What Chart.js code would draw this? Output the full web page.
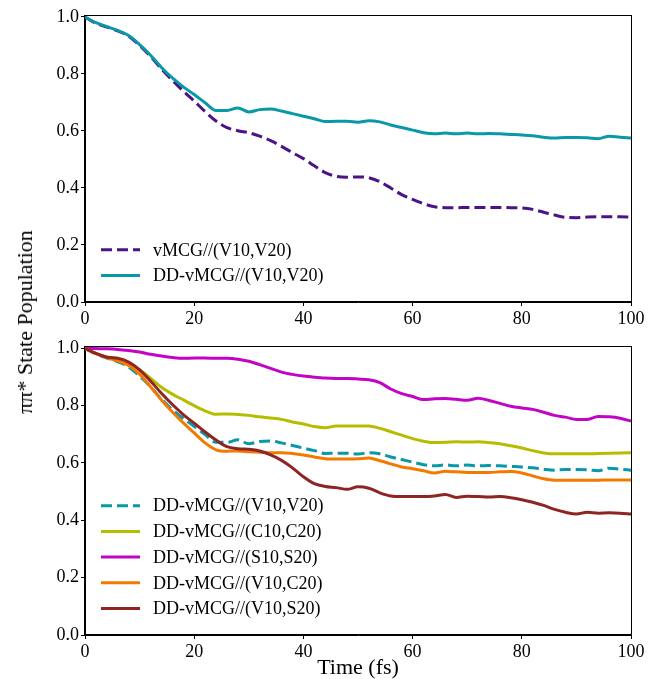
<!DOCTYPE html>
<html>
<head>
<meta charset="utf-8">
<script src="https://cdn.jsdelivr.net/npm/chart.js@4.4.1/dist/chart.umd.min.js"></script>
<style>
  body { margin: 0; background: #fff; }
  #wrap { position: relative; width: 648px; height: 679px; }
  #topChart { position: absolute; left: 0; top: 0; }
  #bottomChart { position: absolute; left: 0; top: 330px; }
  #yTitle {
    position: absolute; left: 25px; top: 322px;
    transform: translate(-50%, -50%) rotate(-90deg);
    font-family: 'Liberation Serif', serif; font-size: 22px;
    white-space: nowrap; color: #000;
  }
</style>
</head>
<body>
<div id="wrap">
  <canvas id="topChart" width="648" height="330"></canvas>
  <canvas id="bottomChart" width="648" height="349"></canvas>
  <div id="yTitle">ππ* State Population</div>
</div>
<script>
// time axis (fs)
const time = [0, 2, 4, 6, 8, 10, 12, 14, 16, 18, 20, 22, 24, 26, 28, 30, 32, 34, 36, 38, 40,
  42, 44, 46, 48, 50, 52, 54, 56, 58, 60, 62, 64, 66, 68, 70, 72, 74, 76, 78, 80,
  82, 84, 86, 88, 90, 92, 94, 96, 98, 100];
const xTicks = [0, 20, 40, 60, 80, 100];
const yTicks = [0, 0.2, 0.4, 0.6, 0.8, 1.0];

// populations
const vmcgV10V20 = [1.000, 0.978, 0.965, 0.951, 0.933, 0.900, 0.862, 0.818, 0.778, 0.740, 0.705,
  0.668, 0.635, 0.612, 0.601, 0.594, 0.582, 0.566, 0.546, 0.524, 0.503,
  0.478, 0.454, 0.441, 0.438, 0.439, 0.436, 0.422, 0.400, 0.377, 0.360,
  0.345, 0.334, 0.331, 0.331, 0.332, 0.332, 0.332, 0.332, 0.331, 0.330,
  0.325, 0.315, 0.305, 0.297, 0.296, 0.298, 0.299, 0.299, 0.299, 0.298];
const ddV10V20 = [1.000, 0.980, 0.966, 0.953, 0.935, 0.903, 0.866, 0.823, 0.786, 0.755, 0.728,
  0.699, 0.672, 0.672, 0.681, 0.667, 0.675, 0.677, 0.670, 0.661, 0.652,
  0.643, 0.633, 0.634, 0.634, 0.631, 0.636, 0.632, 0.621, 0.612, 0.603,
  0.594, 0.590, 0.593, 0.590, 0.593, 0.590, 0.591, 0.590, 0.588, 0.586,
  0.583, 0.578, 0.575, 0.577, 0.577, 0.576, 0.573, 0.582, 0.578, 0.575];
const ddC10C20 = [1.000, 0.981, 0.970, 0.965, 0.950, 0.925, 0.896, 0.864, 0.840, 0.820, 0.800,
  0.782, 0.770, 0.771, 0.769, 0.766, 0.761, 0.757, 0.752, 0.743, 0.736,
  0.727, 0.723, 0.729, 0.729, 0.729, 0.729, 0.721, 0.709, 0.697, 0.685,
  0.676, 0.671, 0.672, 0.674, 0.673, 0.674, 0.671, 0.667, 0.660, 0.652,
  0.643, 0.635, 0.632, 0.632, 0.632, 0.632, 0.633, 0.634, 0.635, 0.636];
const ddS10S20 = [1.000, 0.999, 0.998, 0.996, 0.992, 0.987, 0.979, 0.973, 0.968, 0.965, 0.966,
  0.966, 0.965, 0.965, 0.962, 0.955, 0.943, 0.930, 0.917, 0.909, 0.903,
  0.899, 0.896, 0.895, 0.895, 0.893, 0.890, 0.880, 0.858, 0.842, 0.832,
  0.821, 0.824, 0.825, 0.822, 0.819, 0.826, 0.818, 0.808, 0.798, 0.792,
  0.787, 0.777, 0.766, 0.760, 0.752, 0.752, 0.762, 0.761, 0.756, 0.746];
const ddV10C20 = [1.000, 0.982, 0.967, 0.956, 0.940, 0.910, 0.866, 0.820, 0.778, 0.740, 0.705,
  0.670, 0.646, 0.641, 0.642, 0.639, 0.637, 0.636, 0.636, 0.633, 0.628,
  0.621, 0.615, 0.614, 0.614, 0.615, 0.617, 0.608, 0.597, 0.586, 0.580,
  0.573, 0.565, 0.571, 0.569, 0.567, 0.567, 0.567, 0.569, 0.570, 0.565,
  0.555, 0.545, 0.540, 0.540, 0.540, 0.540, 0.540, 0.541, 0.541, 0.541];
const ddV10S20 = [1.000, 0.982, 0.969, 0.965, 0.952, 0.925, 0.886, 0.843, 0.804, 0.769, 0.739,
  0.708, 0.680, 0.657, 0.650, 0.648, 0.642, 0.628, 0.609, 0.583, 0.552,
  0.528, 0.518, 0.514, 0.508, 0.517, 0.512, 0.496, 0.485, 0.483, 0.483,
  0.483, 0.485, 0.490, 0.480, 0.484, 0.483, 0.481, 0.483, 0.479, 0.472,
  0.463, 0.452, 0.438, 0.428, 0.422, 0.428, 0.425, 0.426, 0.425, 0.422];

const serif = "'Liberation Serif', 'Times New Roman', serif";

const toPoints = (vals) => time.map((t, i) => ({ x: t, y: vals[i] }));

const series = (label, vals, color, dashed, order) => ({
    label: label,
    data: toPoints(vals),
    borderColor: color,
    borderWidth: 3,
    borderDash: dashed ? [11, 5] : [],
    pointRadius: 0,
    fill: false,
    cubicInterpolationMode: 'monotone',
    order: order
});

// legend drawn inside the axes, lower left like the original
const insideLegend = {
    id: 'insideLegend',
    afterDatasetsDraw(chart) {
        const { ctx, chartArea } = chart;
        const sets = chart.data.datasets;
        ctx.save();
        ctx.font = `18px ${serif}`;
        ctx.textBaseline = 'middle';
        sets.forEach((ds, i) => {
            const y = chartArea.bottom - 26.5 - (sets.length - 1 - i) * 25.7;
            ctx.strokeStyle = ds.borderColor;
            ctx.lineWidth = 3;
            ctx.setLineDash(ds.borderDash);
            ctx.beginPath();
            ctx.moveTo(chartArea.left + 16, y);
            ctx.lineTo(chartArea.left + 55, y);
            ctx.stroke();
            ctx.setLineDash([]);
            ctx.fillStyle = '#000';
            ctx.fillText(ds.label, chartArea.left + 68, y + 1);
        });
        ctx.restore();
    }
};

// full box round the plot area
const frame = {
    id: 'frame',
    afterDraw(chart) {
        const { ctx, chartArea } = chart;
        ctx.save();
        ctx.strokeStyle = '#000';
        ctx.lineWidth = 1;
        ctx.strokeRect(Math.round(chartArea.left) - 0.5, Math.round(chartArea.top) + 0.5,
            Math.round(chartArea.right - chartArea.left) + 1, Math.round(chartArea.bottom - chartArea.top) - 1);
        ctx.restore();
    }
};

const makeOptions = (yMax, padTop, xHeight, showTitle) => ({
    responsive: false,
    animation: false,
    layout: { padding: { top: padTop, right: 17, left: 0, bottom: 0 } },
    plugins: { legend: { display: false }, tooltip: { enabled: false } },
    scales: {
        x: {
            type: 'linear',
            min: 0,
            max: 100,
            afterBuildTicks: (scale) => { scale.ticks = xTicks.map(v => ({ value: v })); },
            afterFit: (scale) => { scale.height = xHeight; },
            grid: { drawOnChartArea: false, drawTicks: true, tickLength: 4, tickColor: '#000' },
            border: { display: true, color: '#000' },
            ticks: { color: '#000', padding: 2, maxRotation: 0, font: { family: serif, size: 18 } },
            title: {
                display: showTitle,
                text: 'Time (fs)',
                color: '#000',
                padding: { top: 0, bottom: -2 },
                font: { family: serif, size: 22 }
            }
        },
        y: {
            min: 0,
            max: yMax,
            afterBuildTicks: (scale) => { scale.ticks = yTicks.map(v => ({ value: v })); },
            afterFit: (scale) => { scale.width = 85; },
            grid: { drawOnChartArea: false, drawTicks: true, tickLength: 4, tickColor: '#000' },
            border: { display: true, color: '#000' },
            ticks: {
                color: '#000',
                padding: 2,
                font: { family: serif, size: 18 },
                callback: (value) => value.toFixed(1)
            }
        }
    }
});

new Chart(document.getElementById('topChart'), {
    type: 'line',
    data: {
        datasets: [
            series('vMCG//(V10,V20)', vmcgV10V20, '#4b1486', true, 2),
            series('DD-vMCG//(V10,V20)', ddV10V20, '#0898a8', false, 1)
        ]
    },
    options: makeOptions(1.007, 15, 28, false),
    plugins: [insideLegend, frame]
});

new Chart(document.getElementById('bottomChart'), {
    type: 'line',
    data: {
        datasets: [
            series('DD-vMCG//(V10,V20)', ddV10V20, '#0898a8', true, 5),
            series('DD-vMCG//(C10,C20)', ddC10C20, '#b6bd00', false, 4),
            series('DD-vMCG//(S10,S20)', ddS10S20, '#c204c4', false, 3),
            series('DD-vMCG//(V10,C20)', ddV10C20, '#f27a00', false, 2),
            series('DD-vMCG//(V10,S20)', ddV10S20, '#8e2424', false, 1)
        ]
    },
    options: makeOptions(1.008, 16, 44, true),
    plugins: [insideLegend, frame]
});
</script>
</body>
</html>
